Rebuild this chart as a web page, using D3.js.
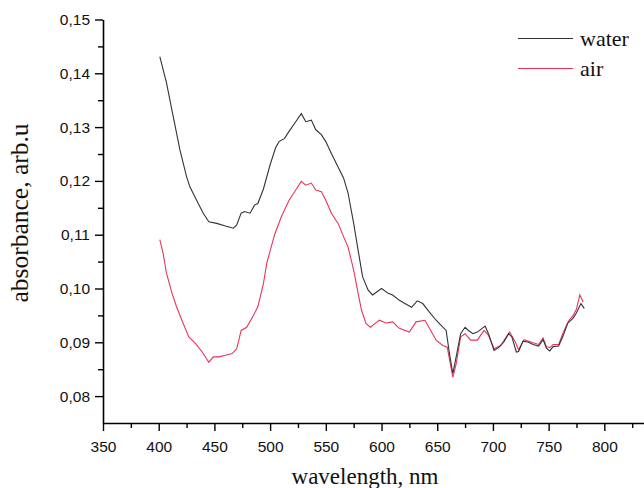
<!DOCTYPE html>
<html>
<head>
<meta charset="utf-8">
<script src="https://cdn.jsdelivr.net/npm/d3@7/dist/d3.min.js"></script>
<style>
  html, body { margin: 0; padding: 0; background: #fff; }
  svg { display: block; }
</style>
</head>
<body>
<svg id="chart" width="644" height="488"></svg>
<script>
// ---- data ----
const seriesNames = ["water", "air"];
const seriesColors = ["#333333", "#e8355a"];

const waterWavelength = [401,407,413,419,425,428,434,440,445,452,460,467,470,474,477,482,486,489,494,500,505,508,513,517,523,528,532,537,541,546,550,555,561,566,570,575,579,583,588,592,596,600,606,610,616,621,627,632,637,643,649,655,658,661,664,667,671,675,678,682,686,693,696,701,705,710,714,717,721,723,727,732,736,741,745,748,751,754,759,763,767,772,775,779,782];
const waterAbs = [0.1431,0.1382,0.1320,0.1258,0.1208,0.1189,0.1164,0.1140,0.1124,0.1121,0.1116,0.1112,0.1118,0.1140,0.1143,0.1140,0.1155,0.1158,0.1185,0.1230,0.1262,0.1273,0.1279,0.1292,0.1310,0.1325,0.1310,0.1313,0.1295,0.1286,0.1273,0.1251,0.1226,0.1205,0.1177,0.1121,0.1071,0.1022,0.0997,0.0988,0.0994,0.1000,0.0991,0.0988,0.0978,0.0972,0.0965,0.0977,0.0972,0.0956,0.0941,0.0928,0.0922,0.0879,0.0842,0.0873,0.0916,0.0928,0.0922,0.0916,0.0919,0.0930,0.0916,0.0885,0.0890,0.0901,0.0916,0.0910,0.0882,0.0883,0.0902,0.0900,0.0896,0.0893,0.0905,0.0889,0.0884,0.0892,0.0893,0.0912,0.0935,0.0945,0.0955,0.0972,0.0963];

const airWavelength = [401,404,407,412,416,422,427,433,439,445,449,454,460,466,470,474,479,485,489,494,497,504,510,517,523,528,532,537,541,546,550,555,561,566,570,575,579,582,586,590,596,598,604,610,616,625,631,639,643,649,655,659,664,667,671,675,680,686,692,696,701,707,711,715,720,723,728,732,736,741,745,748,751,754,759,763,768,772,775,778,781];
const airAbs = [0.1091,0.1065,0.1028,0.0991,0.0966,0.0935,0.0910,0.0898,0.0882,0.0863,0.0873,0.0873,0.0876,0.0879,0.0888,0.0922,0.0928,0.0950,0.0966,0.1009,0.1047,0.1100,0.1133,0.1164,0.1183,0.1199,0.1192,0.1196,0.1183,0.1180,0.1164,0.1140,0.1121,0.1096,0.1077,0.1034,0.0991,0.0960,0.0935,0.0928,0.0938,0.0941,0.0936,0.0938,0.0926,0.0919,0.0938,0.0941,0.0926,0.0904,0.0894,0.0891,0.0835,0.0860,0.0910,0.0916,0.0904,0.0904,0.0922,0.0913,0.0888,0.0894,0.0907,0.0919,0.0901,0.0886,0.0905,0.0902,0.0899,0.0896,0.0908,0.0892,0.0890,0.0896,0.0896,0.0918,0.0940,0.0950,0.0962,0.0988,0.0975];

const xMajorTicks = [350,400,450,500,550,600,650,700,750,800];
const xMinorTicks = [375,425,475,525,575,625,675,725,775,825];
const yMajorTicks = [0.08,0.09,0.10,0.11,0.12,0.13,0.14,0.15];
const yMinorTicks = [0.085,0.095,0.105,0.115,0.125,0.135,0.145];
const yTickLabels = ["0,08","0,09","0,10","0,11","0,12","0,13","0,14","0,15"];
const xTitle = "wavelength, nm";
const yTitle = "absorbance, arb.u";

// ---- layout ----
const svg = d3.select("#chart");
const mLeft = 103, mRight = 644, mTop = 19.5, mBottom = 423;
const x = d3.scaleLinear().domain([350, 835.6]).range([mLeft, mRight]);
const y = d3.scaleLinear().domain([0.075, 0.15]).range([mBottom, mTop]);

const tickFont = "'Liberation Sans', Arial, sans-serif";
const titleFont = "'Liberation Serif', 'Times New Roman', serif";

// x axis
const gx = svg.append("g").attr("transform", `translate(0,${mBottom})`);
gx.call(d3.axisBottom(x).tickValues(xMajorTicks).tickSize(8).tickSizeOuter(0).tickPadding(10).tickFormat(d3.format("d")));
gx.select(".domain").attr("stroke", "#000").attr("stroke-width", 1.6);
gx.selectAll(".tick line").attr("stroke", "#000").attr("stroke-width", 1.4);
gx.selectAll(".tick text").attr("font-family", tickFont).attr("font-size", 15.5).attr("fill", "#111");
const gxm = svg.append("g").attr("transform", `translate(0,${mBottom})`);
gxm.call(d3.axisBottom(x).tickValues(xMinorTicks).tickSize(5).tickSizeOuter(0).tickFormat(""));
gxm.select(".domain").remove();
gxm.selectAll(".tick line").attr("stroke", "#000").attr("stroke-width", 1.4);

// y axis
const gy = svg.append("g").attr("transform", `translate(${mLeft},0)`);
gy.call(d3.axisLeft(y).tickValues(yMajorTicks).tickSize(8).tickSizeOuter(0).tickPadding(5)
  .tickFormat((d, i) => yTickLabels[i]));
gy.select(".domain").attr("stroke", "#000").attr("stroke-width", 1.6);
gy.selectAll(".tick line").attr("stroke", "#000").attr("stroke-width", 1.4);
gy.selectAll(".tick text").attr("font-family", tickFont).attr("font-size", 15.5).attr("fill", "#111");
const gym = svg.append("g").attr("transform", `translate(${mLeft},0)`);
gym.call(d3.axisLeft(y).tickValues(yMinorTicks).tickSize(5).tickSizeOuter(0).tickFormat(""));
gym.select(".domain").remove();
gym.selectAll(".tick line").attr("stroke", "#000").attr("stroke-width", 1.4);

// titles
svg.append("text").attr("x", 365).attr("y", 484).attr("text-anchor", "middle")
  .attr("font-family", titleFont).attr("font-size", 23).attr("fill", "#111").text(xTitle);
svg.append("text").attr("transform", "translate(28,213) rotate(-90)").attr("text-anchor", "middle")
  .attr("font-family", titleFont).attr("font-size", 25.5).attr("fill", "#111").text(yTitle);

// lines
const line = d3.line().x(d => x(d[0])).y(d => y(d[1]));
const waterData = waterWavelength.map((w, i) => [w, waterAbs[i]]);
const airData = airWavelength.map((w, i) => [w, airAbs[i]]);
svg.append("path").datum(airData).attr("d", line).attr("fill", "none")
  .attr("stroke", seriesColors[1]).attr("stroke-width", 1.1);
svg.append("path").datum(waterData).attr("d", line).attr("fill", "none")
  .attr("stroke", seriesColors[0]).attr("stroke-width", 1.1);

// legend
const legend = svg.append("g");
seriesNames.forEach((name, i) => {
  const ly = 38.5 + i * 30;
  legend.append("line").attr("x1", 518).attr("x2", 573).attr("y1", ly).attr("y2", ly)
    .attr("stroke", seriesColors[i]).attr("stroke-width", 1.2);
  legend.append("text").attr("x", 580).attr("y", ly + 7).attr("font-family", titleFont)
    .attr("font-size", 22).attr("fill", "#111").text(name);
});
</script>
</body>
</html>
